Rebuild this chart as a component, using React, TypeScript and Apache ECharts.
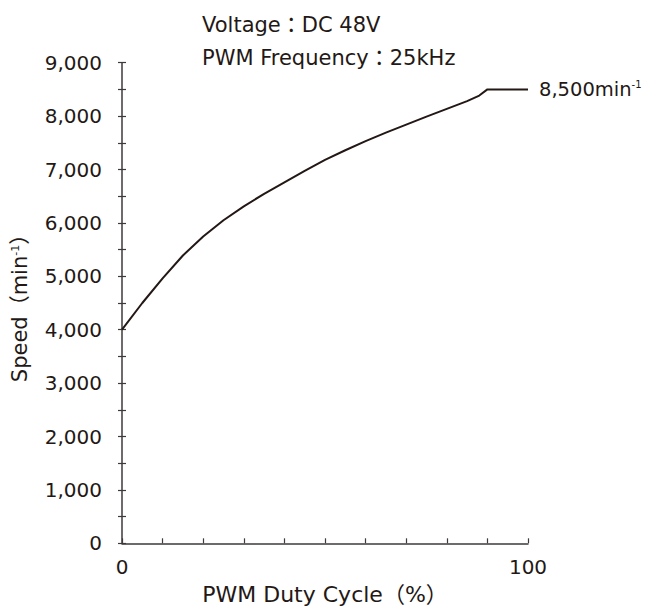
import React, { useEffect, useRef } from "react";
import * as echarts from "echarts";

const dutyCycle = [0, 5, 10, 15, 20, 25, 30, 35, 40, 45, 50, 55, 60, 65, 70, 75, 80, 85, 88, 90, 100];
const speed = [4000, 4500, 4960, 5390, 5745, 6050, 6310, 6545, 6760, 6975, 7180, 7360, 7530, 7690, 7840, 7990, 8135, 8280, 8385, 8500, 8500];
const xLabels = [0, 100];
const conditions = ["Voltage：DC 48V", "PWM Frequency：25kHz"];

const INK = "#231815";
const AXIS = "#3e3a39";
const FONT = "'DejaVu Sans', 'Noto Sans CJK JP', sans-serif";

export default function App() {
  const ref = useRef<HTMLDivElement>(null);
  useEffect(() => {
    document.body.style.margin = "0";
    document.body.style.overflow = "hidden";
    if (!ref.current) return;
    const chart = echarts.init(ref.current, null, { renderer: "svg" });
    const data = dutyCycle.map((d, i) => [d, speed[i]]);
    chart.setOption({
      animation: false,
      backgroundColor: "#ffffff",
      graphic: conditions.map((t, i) => ({
        type: "text",
        left: 202,
        top: 14 + i * 33,
        style: { text: t, font: `21px ${FONT}`, fill: INK },
      })),
      grid: {
        left: 122,
        right: 128,
        top: 62.7,
        bottom: 66.7,
        containLabel: false,
        outerBoundsMode: "none",
      },
      xAxis: {
        type: "value",
        min: 0,
        max: 100,
        interval: 10,
        name: "PWM Duty Cycle（%）",
        nameLocation: "middle",
        nameGap: 40,
        nameTextStyle: { fontFamily: FONT, fontSize: 22, color: INK },
        axisLine: { lineStyle: { color: AXIS, width: 1.5 } },
        axisTick: { inside: true, length: 5, lineStyle: { color: AXIS, width: 1.2 } },
        splitLine: { show: false },
        axisLabel: {
          margin: 14,
          fontFamily: FONT,
          fontSize: 20,
          color: INK,
          formatter: (v: number) => (xLabels.includes(v) ? String(v) : ""),
        },
      },
      yAxis: [
        {
          type: "value",
          min: 0,
          max: 9000,
          interval: 500,
          name: "{t|Speed（min}{sup|-1}{t|）}",
          nameLocation: "middle",
          nameGap: 92,
          nameRotate: 90,
          nameTextStyle: {
            rich: {
              t: { fontFamily: FONT, fontSize: 21, color: INK },
              sup: { fontFamily: FONT, fontSize: 11, color: INK, padding: [0, 0, 9, 0] },
            },
          },
          axisLine: { show: true, lineStyle: { color: AXIS, width: 1.5 } },
          axisTick: { show: true, length: 4, lineStyle: { color: AXIS, width: 1.2 } },
          splitLine: { show: false },
          axisLabel: {
            margin: 20,
            fontFamily: FONT,
            fontSize: 20,
            color: INK,
            formatter: (v: number) => (v % 1000 === 0 ? v.toLocaleString("en-US") : ""),
          },
        },
        {
          type: "value",
          min: 0,
          max: 9000,
          interval: 500,
          position: "left",
          axisLine: { show: false },
          axisTick: { show: true, inside: true, length: 4, lineStyle: { color: AXIS, width: 1.2 } },
          axisLabel: { show: false },
          splitLine: { show: false },
        },
      ],
      series: [
        {
          type: "line",
          data,
          smooth: false,
          showSymbol: false,
          lineStyle: { color: INK, width: 2 },
          endLabel: {
            show: true,
            distance: 11,
            formatter: "{t|8,500min}{sup|-1}",
            rich: {
              t: { fontFamily: FONT, fontSize: 19.5, color: INK },
              sup: { fontFamily: FONT, fontSize: 10, color: INK, padding: [0, 0, 9, 0] },
            },
          },
        },
      ],
    });
    return () => chart.dispose();
  }, []);
  return <div ref={ref} style={{ width: 656, height: 610 }} />;
}
